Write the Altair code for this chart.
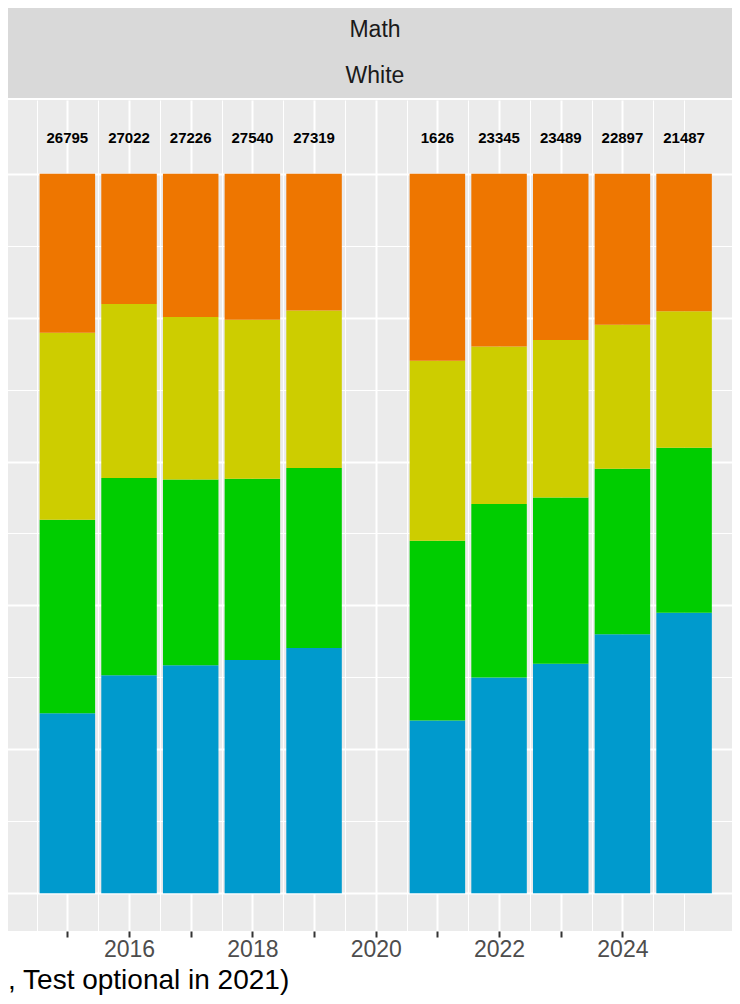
import altair as alt
import pandas as pd

# ---- data ----
years = [2015, 2016, 2017, 2018, 2019, 2021, 2022, 2023, 2024, 2025]
counts = [26795, 27022, 27226, 27540, 27319, 1626, 23345, 23489, 22897, 21487]

# levels listed bottom -> top of each stack
levels = ["Level 4", "Level 3", "Level 2", "Level 1"]
level_colors = ["#009ACD", "#00CD00", "#CDCD00", "#EE7600"]

share_level4 = [0.250, 0.303, 0.317, 0.324, 0.341, 0.240, 0.300, 0.319, 0.360, 0.390]
share_level3 = [0.269, 0.274, 0.258, 0.252, 0.250, 0.250, 0.241, 0.231, 0.230, 0.229]
share_level2 = [0.260, 0.242, 0.226, 0.221, 0.219, 0.250, 0.219, 0.219, 0.200, 0.190]
share_level1 = [0.221, 0.181, 0.199, 0.203, 0.190, 0.260, 0.240, 0.231, 0.210, 0.191]

strip_labels = ["Math", "White"]
caption = ", Test optional in 2021)"

x_major = [2015, 2016, 2017, 2018, 2019, 2020, 2021, 2022, 2023, 2024]
x_minor = [2014.5, 2015.5, 2016.5, 2017.5, 2018.5, 2019.5, 2020.5, 2021.5,
           2022.5, 2023.5, 2024.5, 2025]
y_major = [0, 0.2, 0.4, 0.6, 0.8, 1.0]
y_minor = [0.1, 0.3, 0.5, 0.7, 0.9]

# ---- tables ----
rows = []
series = [share_level4, share_level3, share_level2, share_level1]
for li, (lvl, vals) in enumerate(zip(levels, series)):
    for yr, v in zip(years, vals):
        rows.append({"year": yr, "level": lvl, "ord": li, "share": v})
df = pd.DataFrame(rows)
df_counts = pd.DataFrame({"year": years, "count": counts})
df_strip = pd.DataFrame({"label": strip_labels, "row": [0, 1]})

W = 726
FONT = "Liberation Sans"

xscale = alt.Scale(domain=[2014.005, 2025.777], nice=False, zero=False)
yscale = alt.Scale(domain=[-0.0525, 1.1025], nice=False, zero=False)

xaxis_major = alt.Axis(
    orient="bottom",
    values=x_major,
    title=None,
    domain=False,
    labelExpr="(datum.value % 2 == 0) ? toString(datum.value) : ''",
    labelOverlap=False,
    labelFlush=False,
    labelFontSize=23,
    labelColor="#4D4D4D",
    labelFont=FONT,
    labelPadding=1,
    tickColor="#333333",
    tickSize=6,
    tickWidth=2,
    grid=True,
    gridColor="#FFFFFF",
    gridWidth=2,
)
xaxis_minor = alt.Axis(
    orient="bottom",
    values=x_minor,
    title=None,
    domain=False,
    labels=False,
    ticks=False,
    grid=True,
    gridColor="#FFFFFF",
    gridWidth=1,
)
yaxis_major = alt.Axis(
    orient="left",
    values=y_major,
    title=None,
    domain=False,
    labels=False,
    ticks=False,
    grid=True,
    gridColor="#FFFFFF",
    gridWidth=2,
)
yaxis_minor = alt.Axis(
    orient="left",
    values=y_minor,
    title=None,
    domain=False,
    labels=False,
    ticks=False,
    grid=True,
    gridColor="#FFFFFF",
    gridWidth=1,
)

bars = (
    alt.Chart(df)
    .transform_calculate(x0="datum.year - 0.45", x1="datum.year + 0.45")
    .transform_stack(
        stack="share",
        groupby=["year"],
        as_=["y0", "y1"],
        sort=[alt.SortField("ord", order="ascending")],
    )
    .mark_rect()
    .encode(
        x=alt.X("x0:Q", scale=xscale, axis=xaxis_major),
        x2="x1:Q",
        y=alt.Y("y0:Q", scale=yscale, axis=yaxis_major),
        y2="y1:Q",
        color=alt.Color("level:N", scale=alt.Scale(domain=levels, range=level_colors), legend=None),
    )
)

labels = (
    alt.Chart(df_counts)
    .mark_text(fontSize=15, fontWeight="bold", font=FONT, color="#000000", baseline="middle")
    .encode(
        x=alt.X("year:Q", scale=xscale, axis=xaxis_minor),
        y=alt.YDatum(1.05, scale=yscale, axis=yaxis_minor),
        text=alt.Text("count:Q", format="d"),
    )
)

panel = (
    alt.layer(bars, labels)
    .resolve_axis(x="independent", y="independent")
    .properties(
        width=W,
        height=831,
        view=alt.ViewBackground(fill="#EBEBEB", strokeWidth=0),
    )
)

strip = (
    alt.Chart(df_strip)
    .mark_text(fontSize=23, font=FONT, color="#1A1A1A", baseline="middle", dy=1)
    .encode(
        x=alt.value(369),
        y=alt.Y("row:O", axis=None, sort=[0, 1]),
        text="label:N",
    )
    .properties(width=W, height=92, view=alt.ViewBackground(fill="#D9D9D9", strokeWidth=0))
)

chart = (
    alt.vconcat(strip, panel, spacing=2)
    .properties(
        padding={"left": -2, "top": -2, "right": 0, "bottom": 0},
        title=alt.TitleParams(
            caption,
            orient="bottom",
            anchor="start",
            fontSize=28,
            font=FONT,
            fontWeight="normal",
            color="#000000",
            offset=6,
            dx=2,
        ),
    )
    .configure_view(strokeWidth=0)
    .configure_concat(spacing=2)
)

chart.save("out.html", embed_options={"renderer": "svg", "actions": False})
